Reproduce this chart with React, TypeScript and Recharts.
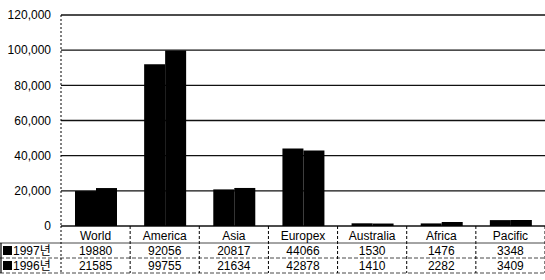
import React from "react";
import { BarChart, Bar, XAxis, YAxis, CartesianGrid } from "recharts";

const regions = ["World", "America", "Asia", "Europex", "Australia", "Africa", "Pacific"];
const y1997 = [19880, 92056, 20817, 44066, 1530, 1476, 3348];
const y1996 = [21585, 99755, 21634, 42878, 1410, 2282, 3409];
const seriesNames = ["1997년", "1996년"];
const yTicks = [0, 20000, 40000, 60000, 80000, 100000, 120000];

const W = 545;
const H = 280;
const LEFT = 61;
const ROW_H = 15;
const FONT = '"Liberation Sans", Arial, "Noto Sans CJK KR", sans-serif';

const data = regions.map((r, i) => ({ region: r, y1997: y1997[i], y1996: y1996[i] }));

const fmt = (v: number) => v.toLocaleString("en-US");

// data table drawn under each category, legend column drawn with the first one
function TableTick(props: any) {
  const { x, y, payload, index } = props;
  const half = payload.offset || (W - LEFT) / regions.length / 2;
  const i = regions.indexOf(payload.value);
  const cells = [payload.value, String(y1997[i]), String(y1996[i])];
  const top = y;
  const bottom = top + 1 + 3 * ROW_H;
  return (
    <g>
      {index === 0 && (
        <g>
          {[1, 2, 3].map((r) => (
            <line key={r} x1={0} x2={W} y1={top + 2 + r * ROW_H} y2={top + 2 + r * ROW_H}
              stroke="#333" strokeWidth={0.9} strokeDasharray={r === 1 ? undefined : "4 2"} />
          ))}
          <line x1={x - half} x2={x - half} y1={top} y2={bottom + 1} stroke="#000" strokeDasharray="2 2" />
          <line x1={1} x2={1} y1={top + 2 + ROW_H} y2={bottom + 1} stroke="#000" strokeWidth={1.2} />
          {seriesNames.map((s, r) => (
            <g key={s}>
              <rect x={3} y={top + 2 + (r + 1) * ROW_H + 3} width={9} height={9} fill="#000" />
              <text x={13} y={top + 2 + (r + 1) * ROW_H + 8} dominantBaseline="central"
                fontSize={12} fontFamily={FONT} fill="#000">{s}</text>
            </g>
          ))}
        </g>
      )}
      {cells.map((c, r) => (
        <text key={r} x={x} y={top + 10 + r * ROW_H} textAnchor="middle" dominantBaseline="central"
          fontSize={12} fontFamily={FONT} fill="#000">{c}</text>
      ))}
      <line x1={x + half} x2={x + half} y1={top} y2={bottom + 1} stroke="#000" strokeDasharray="3 2" />
    </g>
  );
}

export default function App() {
  return (
    <div style={{ position: "fixed", left: 0, top: 0, width: W, height: H, background: "#fff" }}>
      <BarChart width={W} height={H} data={data} margin={{ top: 15, right: 0, left: 0, bottom: 0 }}
        barGap={0} barSize={21}>
        <CartesianGrid vertical={false} stroke="#111" strokeWidth={1.4} />
        <XAxis dataKey="region" height={54} axisLine={false} tickLine={false} tickSize={0} tickMargin={0}
          interval={0} tick={<TableTick />} />
        <YAxis domain={[0, 120000]} ticks={yTicks} width={61} tickFormatter={fmt}
          tickLine={false} tickSize={6} tickMargin={4}
          axisLine={{ stroke: "#000", strokeDasharray: "2 2" }}
          tick={{ fill: "#000", fontSize: 12, fontFamily: FONT }} />
        <Bar dataKey="y1997" name={seriesNames[0]} fill="#000" isAnimationActive={false} />
        <Bar dataKey="y1996" name={seriesNames[1]} fill="#000" isAnimationActive={false} />
      </BarChart>
    </div>
  );
}
